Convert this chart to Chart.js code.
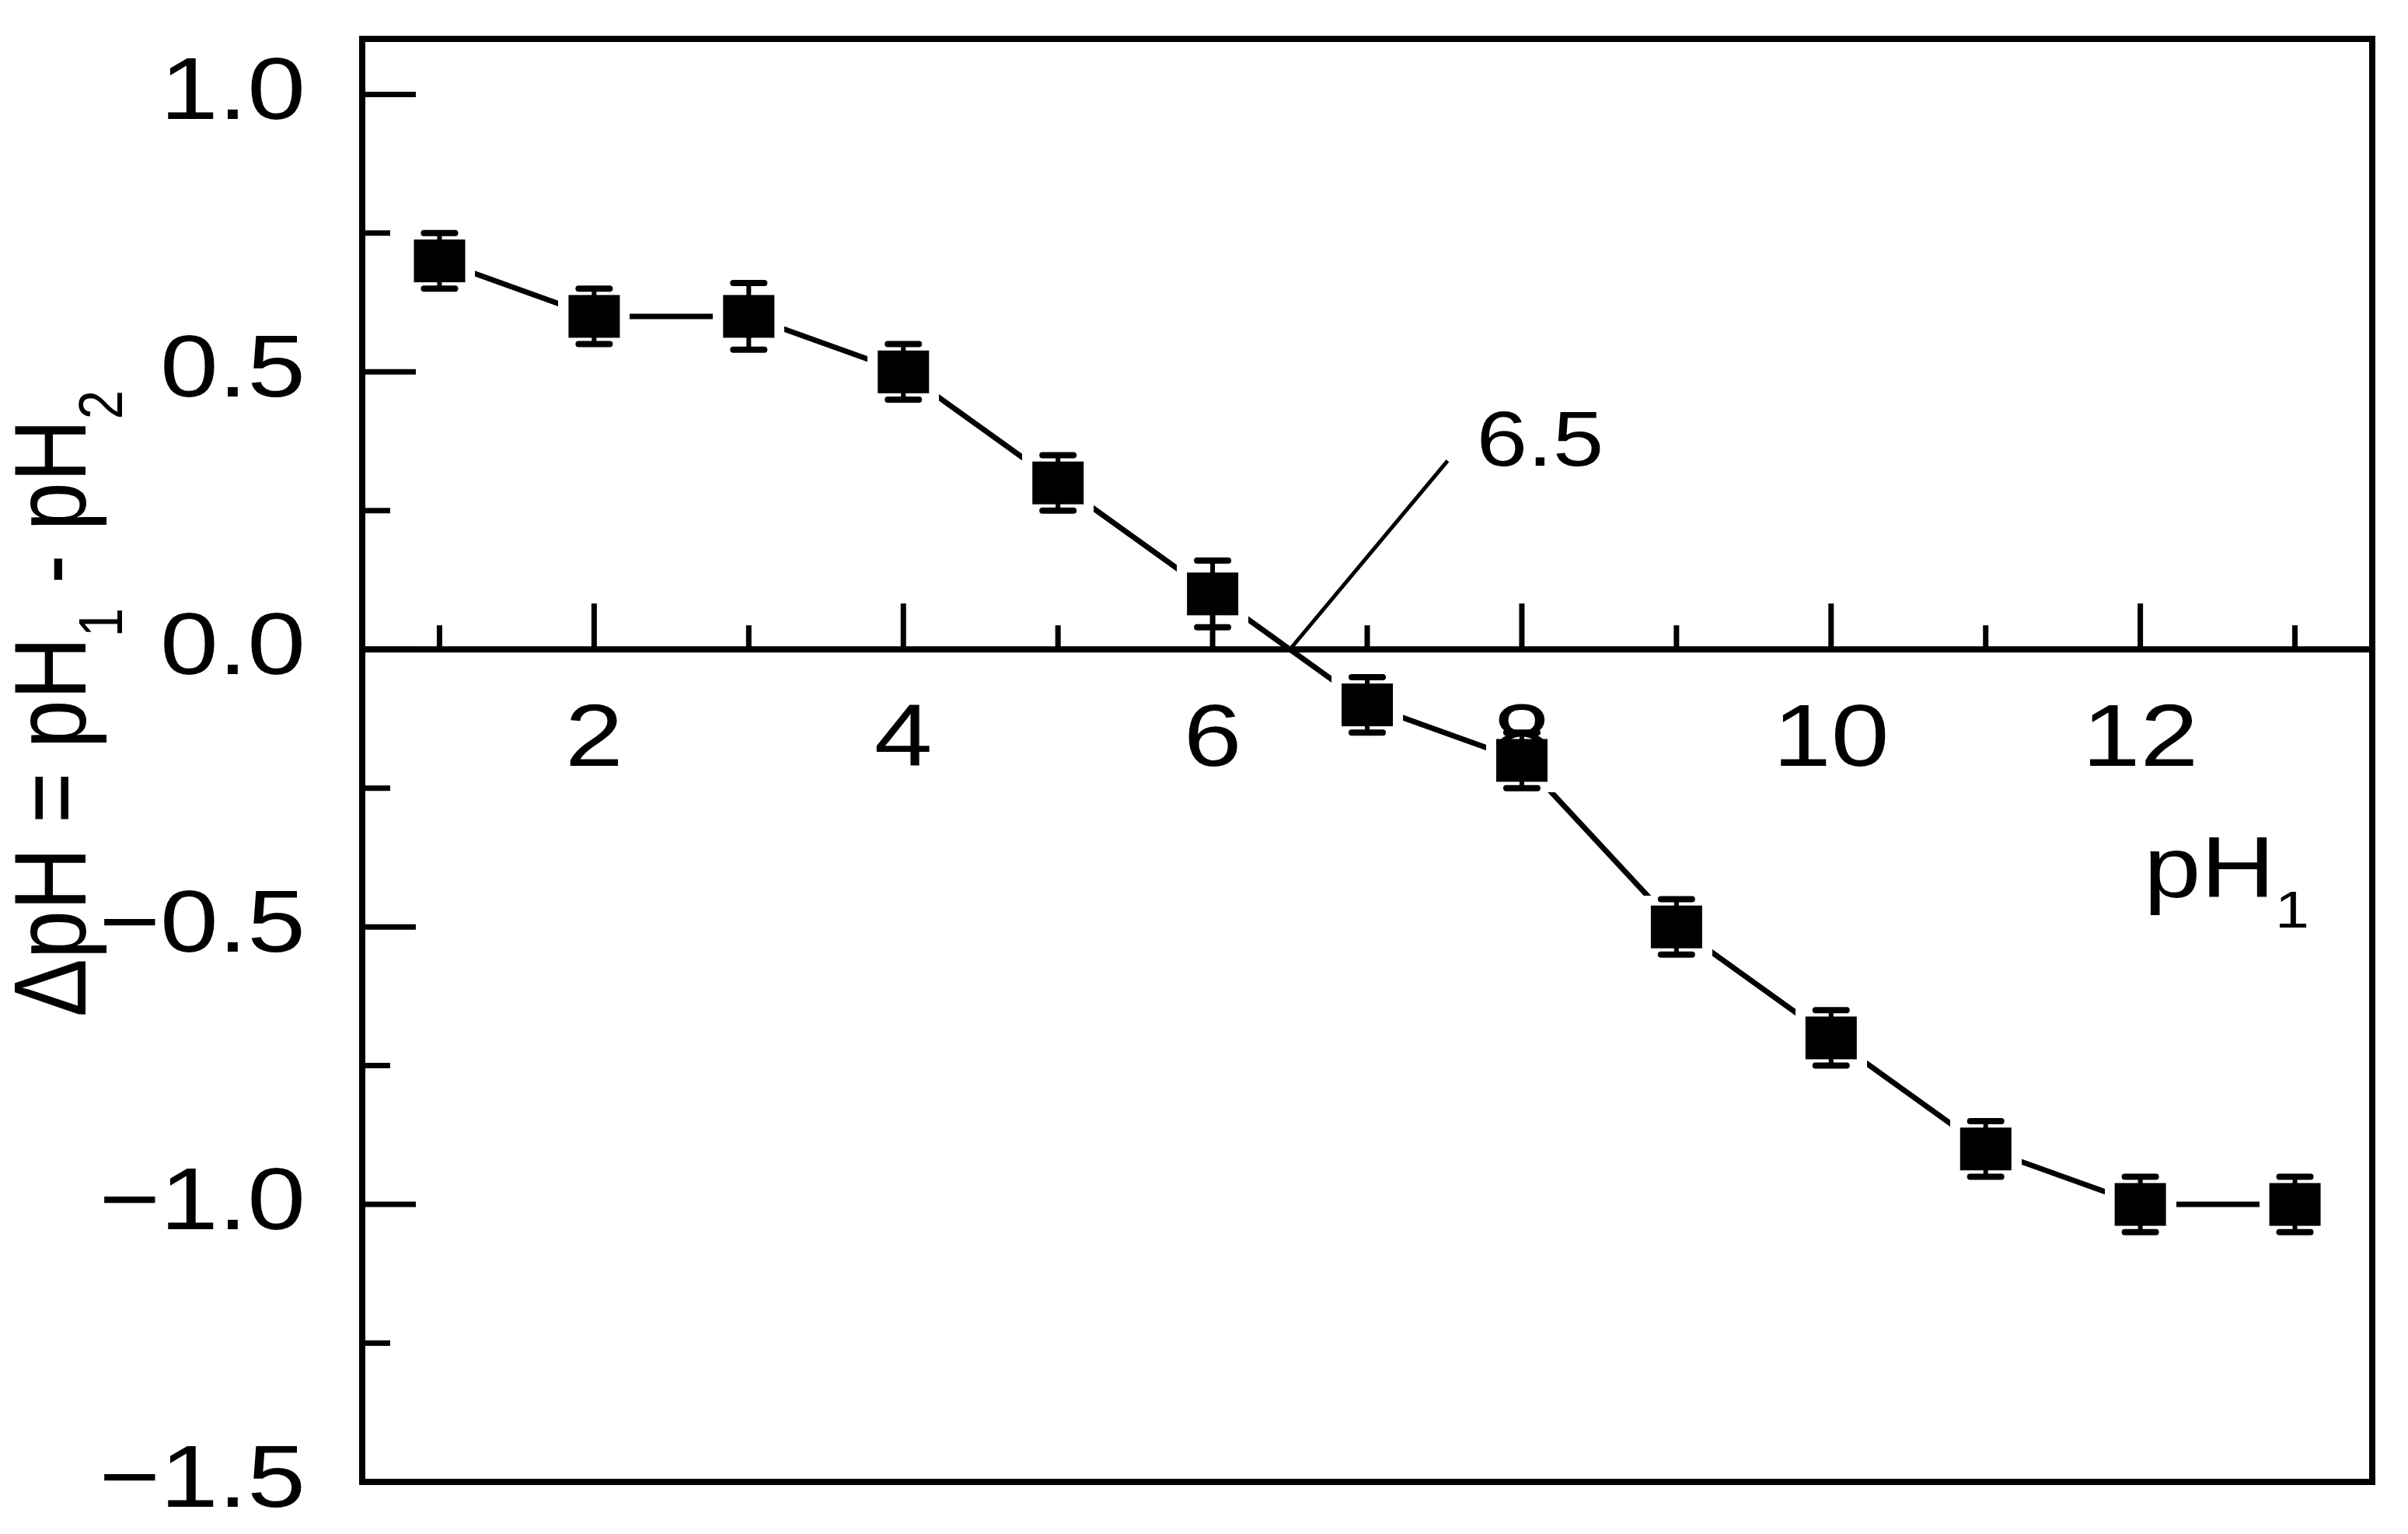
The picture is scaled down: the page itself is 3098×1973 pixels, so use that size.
<!DOCTYPE html>
<html>
<head>
<meta charset="utf-8">
<script src="https://cdn.jsdelivr.net/npm/chart.js@4.4.1/dist/chart.umd.min.js"></script>
<style>
  html, body { margin: 0; padding: 0; background: #ffffff; }
  #wrap { width: 3098px; height: 1973px; position: relative; }
</style>
</head>
<body>
<div id="wrap"><canvas id="c"></canvas></div>
<script>
// ---- data ----
const pH1 = [1, 2, 3, 4, 5, 6, 7, 8, 9, 10, 11, 12, 13];
const deltaPH = [0.70, 0.60, 0.60, 0.50, 0.30, 0.10, -0.10, -0.20, -0.50, -0.70, -0.90, -1.00, -1.00];
const errorPH = [0.05, 0.05, 0.06, 0.05, 0.05, 0.06, 0.05, 0.05, 0.05, 0.05, 0.05, 0.05, 0.05];

const xMajorTicks = [2, 4, 6, 8, 10, 12];
const xTickLabels = ['2', '4', '6', '8', '10', '12'];
const xMinorTicks = [1, 3, 5, 7, 9, 11, 13];
const yMajorTicks = [1.0, 0.5, 0.0, -0.5, -1.0, -1.5];
const yTickLabels = ['1.0', '0.5', '0.0', '\u22120.5', '\u22121.0', '\u22121.5'];
const yMinorTicks = [0.75, 0.25, -0.25, -0.75, -1.25];

const crossX = 6.5;            // crossing point annotated
const leaderEnd = [7.52, 0.34]; // end of the leader line (data units)
const crossLabel = '6.5';

const xTitleMain = 'pH', xTitleSub = '1';
const yTitleParts = [['\u0394pH = pH', false], ['1', true], [' - pH', false], ['2', true]];

// ---- styling ----
const FONT = "'Liberation Sans', Arial, Helvetica, sans-serif";
const SX = 1.18; // horizontal stretch of the original figure

function makeMarker(w, h, gap) {
  const c = document.createElement('canvas');
  c.width = w + 2 * gap; c.height = h + 2 * gap;
  const g = c.getContext('2d');
  g.fillStyle = '#ffffff'; g.fillRect(0, 0, c.width, c.height);
  g.fillStyle = '#000000'; g.fillRect(gap, gap, w, h);
  return c;
}
const marker = makeMarker(66, 55, 13);

function seg(ctx, x1, y1, x2, y2) { ctx.beginPath(); ctx.moveTo(x1, y1); ctx.lineTo(x2, y2); ctx.stroke(); }
function sText(ctx, t, x, y, size, align, sx) {
  ctx.save();
  ctx.font = size + 'px ' + FONT;
  ctx.textAlign = align; ctx.textBaseline = 'alphabetic';
  ctx.translate(x, y); ctx.scale(sx, 1);
  ctx.fillText(t, 0, 0);
  ctx.restore();
}

const decor = {
  id: 'decor',
  afterDraw(chart) {
    const ctx = chart.ctx, a = chart.chartArea, xs = chart.scales.x, ys = chart.scales.y;
    const y0 = ys.getPixelForValue(0);
    ctx.save();
    ctx.strokeStyle = '#000'; ctx.fillStyle = '#000';

    // error bars
    pH1.forEach((v, i) => {
      const px = xs.getPixelForValue(v);
      const top = ys.getPixelForValue(deltaPH[i] + errorPH[i]);
      const bot = ys.getPixelForValue(deltaPH[i] - errorPH[i]);
      ctx.lineCap = 'butt'; ctx.lineWidth = 6;
      seg(ctx, px, top, px, bot);
      ctx.lineCap = 'round'; ctx.lineWidth = 8;
      seg(ctx, px - 20, top, px + 20, top);
      seg(ctx, px - 20, bot, px + 20, bot);
    });

    // frame and zero axis
    ctx.lineCap = 'butt';
    ctx.lineWidth = 8;
    ctx.strokeRect(a.left, a.top, a.right - a.left, a.bottom - a.top);
    seg(ctx, a.left, y0, a.right, y0);

    // y ticks (inward)
    ctx.lineWidth = 7;
    yMajorTicks.forEach(v => { const py = ys.getPixelForValue(v); seg(ctx, a.left, py, a.left + 69, py); });
    yMinorTicks.forEach(v => { const py = ys.getPixelForValue(v); seg(ctx, a.left, py, a.left + 36, py); });
    // x ticks on the zero line (upward)
    xMajorTicks.forEach(v => { const px = xs.getPixelForValue(v); seg(ctx, px, y0, px, y0 - 59); });
    xMinorTicks.forEach(v => { const px = xs.getPixelForValue(v); seg(ctx, px, y0, px, y0 - 31); });

    // tick labels
    yMajorTicks.forEach((v, i) => sText(ctx, yTickLabels[i], a.left - 73, ys.getPixelForValue(v) + 32, 114, 'right', SX));
    xMajorTicks.forEach((v, i) => sText(ctx, xTickLabels[i], xs.getPixelForValue(v), y0 + 150, 114, 'center', SX));

    // x title pH1
    ctx.font = '112px ' + FONT;
    const wMain = ctx.measureText(xTitleMain).width * SX;
    const xtX = a.right - 294, xtY = y0 + 319;
    sText(ctx, xTitleMain, xtX, xtY, 112, 'left', SX);
    sText(ctx, xTitleSub, xtX + wMain, xtY + 39, 67, 'left', SX);

    // y title (rotated)
    ctx.save();
    ctx.translate(110, 1308);
    ctx.rotate(-Math.PI / 2);
    ctx.scale(1, SX);
    ctx.textAlign = 'left'; ctx.textBaseline = 'alphabetic';
    let cx = 0;
    yTitleParts.forEach(([t, sub]) => {
      ctx.font = (sub ? 67 : 112) + 'px ' + FONT;
      ctx.fillText(t, cx, sub ? 40 : 0);
      cx += ctx.measureText(t).width;
    });
    ctx.restore();

    // leader line and label 6.5
    const lx0 = xs.getPixelForValue(crossX), lx1 = xs.getPixelForValue(leaderEnd[0]);
    const ly1 = ys.getPixelForValue(leaderEnd[1]);
    ctx.lineWidth = 5; ctx.lineCap = 'butt';
    seg(ctx, lx0, y0, lx1, ly1);
    sText(ctx, crossLabel, lx1 + 37, ly1 + 6, 100, 'left', SX);

    ctx.restore();
  }
};

new Chart(document.getElementById('c'), {
  type: 'scatter',
  data: {
    datasets: [{
      data: pH1.map((v, i) => ({ x: v, y: deltaPH[i] })),
      showLine: true,
      borderColor: '#000000',
      backgroundColor: '#000000',
      borderWidth: 7,
      borderCapStyle: 'round',
      tension: 0,
      pointStyle: marker,
      pointRadius: 30,
      pointHoverRadius: 30,
      clip: false
    }]
  },
  options: {
    responsive: true,
    maintainAspectRatio: false,
    animation: false,
    devicePixelRatio: 1,
    events: [],
    layout: { padding: { left: 0, top: 50, right: 46, bottom: 67 } },
    plugins: { legend: { display: false }, tooltip: { enabled: false } },
    scales: {
      x: {
        type: 'linear', min: 0.5, max: 13.5, position: 'bottom',
        grid: { display: false }, border: { display: false }, ticks: { display: false },
        afterFit: s => { s.height = 0; }
      },
      y: {
        type: 'linear', min: -1.5, max: 1.1, position: 'left',
        grid: { display: false }, border: { display: false }, ticks: { display: false },
        afterFit: s => { s.width = 466; }
      }
    }
  },
  plugins: [decor]
});
</script>
</body>
</html>
